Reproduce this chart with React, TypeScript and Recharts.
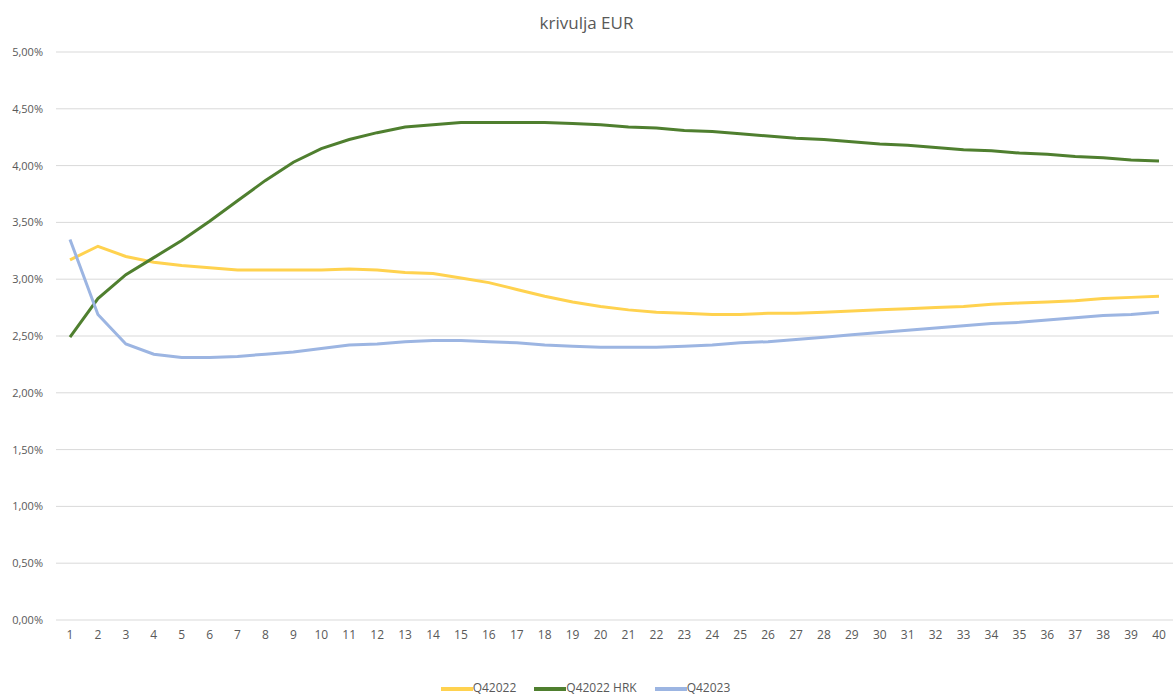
import React from "react";
import {
  LineChart,
  Line,
  XAxis,
  YAxis,
  CartesianGrid,
  Legend,
} from "recharts";

const ročnost = Array.from({ length: 40 }, (_, i) => String(i + 1));

const q42022 = [
  3.17, 3.29, 3.2, 3.15, 3.12, 3.1, 3.08, 3.08, 3.08, 3.08,
  3.09, 3.08, 3.06, 3.05, 3.01, 2.97, 2.91, 2.85, 2.8, 2.76,
  2.73, 2.71, 2.7, 2.69, 2.69, 2.7, 2.7, 2.71, 2.72, 2.73,
  2.74, 2.75, 2.76, 2.78, 2.79, 2.8, 2.81, 2.83, 2.84, 2.85,
];

const q42022Hrk = [
  2.49, 2.83, 3.04, 3.19, 3.34, 3.51, 3.69, 3.87, 4.03, 4.15,
  4.23, 4.29, 4.34, 4.36, 4.38, 4.38, 4.38, 4.38, 4.37, 4.36,
  4.34, 4.33, 4.31, 4.3, 4.28, 4.26, 4.24, 4.23, 4.21, 4.19,
  4.18, 4.16, 4.14, 4.13, 4.11, 4.1, 4.08, 4.07, 4.05, 4.04,
];

const q42023 = [
  3.35, 2.69, 2.43, 2.34, 2.31, 2.31, 2.32, 2.34, 2.36, 2.39,
  2.42, 2.43, 2.45, 2.46, 2.46, 2.45, 2.44, 2.42, 2.41, 2.4,
  2.4, 2.4, 2.41, 2.42, 2.44, 2.45, 2.47, 2.49, 2.51, 2.53,
  2.55, 2.57, 2.59, 2.61, 2.62, 2.64, 2.66, 2.68, 2.69, 2.71,
];

const yTicks = [0, 0.5, 1, 1.5, 2, 2.5, 3, 3.5, 4, 4.5, 5];

const data = ročnost.map((r, i) => ({
  r,
  q42022: q42022[i],
  q42022Hrk: q42022Hrk[i],
  q42023: q42023[i],
}));

const fmt = (v: number) => v.toFixed(2).replace(".", ",") + "%";

const font = "'Open Sans', 'Noto Sans', sans-serif";

export default function App() {
  return (
    <div
      style={{
        position: "absolute",
        left: 0,
        top: 0,
        width: 1173,
        height: 698,
        background: "#fff",
        fontFamily: font,
      }}
    >
      <div
        style={{
          position: "absolute",
          top: 11,
          left: 0,
          width: 1173,
          textAlign: "center",
          fontSize: 17,
          color: "#595959",
        }}
      >
        krivulja EUR
      </div>
      <LineChart
        width={1173}
        height={698}
        data={data}
        margin={{ top: 52, right: 0, bottom: 0, left: 0 }}
      >
        <CartesianGrid vertical={false} stroke="#d9d9d9" />
        <XAxis
          dataKey="r"
          axisLine={false}
          tickLine={false}
          tickSize={0}
          tickMargin={10}
          padding={{ left: 14, right: 14 }}
          interval={0}
          height={48}
          tick={{ fill: "#595959", fontSize: 12, fontFamily: font }}
        />
        <YAxis
          domain={[0, 5]}
          ticks={yTicks}
          tickFormatter={fmt}
          axisLine={false}
          tickLine={false}
          tickSize={0}
          tickMargin={13}
          width={56}
          tick={{ fill: "#595959", fontSize: 11, fontFamily: font }}
        />
        <Legend
          verticalAlign="bottom"
          align="center"
          iconType="plainline"
          iconSize={32}
          height={30}
          wrapperStyle={{ fontSize: 12, fontFamily: font, color: "#595959", bottom: -5, left: 8 }}
          formatter={(value) => (
            <span style={{ color: "#595959", marginLeft: -4, marginRight: 8 }}>{value}</span>
          )}
        />
        <Line
          dataKey="q42022"
          name="Q42022"
          stroke="#ffd24f"
          strokeWidth={3}
          dot={false}
          isAnimationActive={false}
        />
        <Line
          dataKey="q42022Hrk"
          name="Q42022 HRK"
          stroke="#4f7f2f"
          strokeWidth={3}
          dot={false}
          isAnimationActive={false}
        />
        <Line
          dataKey="q42023"
          name="Q42023"
          stroke="#9cb5e2"
          strokeWidth={3}
          dot={false}
          isAnimationActive={false}
        />
      </LineChart>
    </div>
  );
}
